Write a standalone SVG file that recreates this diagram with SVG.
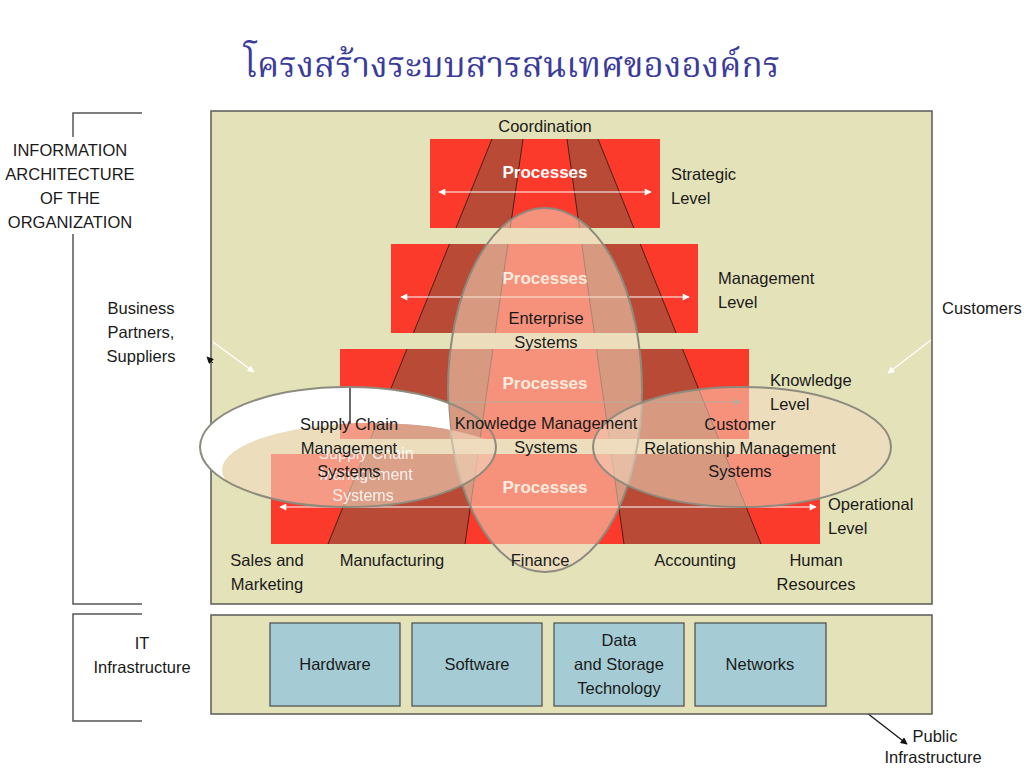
<svg xmlns="http://www.w3.org/2000/svg" width="1024" height="768" viewBox="0 0 1024 768">
<style>
.t{font-family:"Liberation Sans","DejaVu Sans",sans-serif;font-size:16.5px;fill:#1a1a1a}
.c{text-anchor:middle}
.p{font-family:"Liberation Sans","DejaVu Sans",sans-serif;font-size:17px;font-weight:bold;fill:#ffffff;text-anchor:middle}
.g{font-family:"Liberation Sans","DejaVu Sans",sans-serif;font-size:16px;fill:#ffffff;text-anchor:middle;opacity:0.85}
.lvl{fill:#fb3a2c}
.band{fill:#b94a36}
.bl{stroke:#4a2018;stroke-width:1;fill:none}
.box{fill:#e4e2b8;stroke:#5a5a5a;stroke-width:1.5}
.it{fill:#a5ccd4;stroke:#4a4a4a;stroke-width:1.2}
.ell{stroke:#8d8a7e;stroke-width:2}
.br{stroke:#555;stroke-width:1.5;fill:none}
</style>
<defs>
<marker id="wh" viewBox="0 0 10 10" refX="9" refY="5" markerWidth="9" markerHeight="7" markerUnits="userSpaceOnUse" orient="auto-start-reverse"><path d="M0,0 L10,5 L0,10 z" fill="#ffffff"/></marker>
<marker id="gr" viewBox="0 0 10 10" refX="9" refY="5" markerWidth="9" markerHeight="7" markerUnits="userSpaceOnUse" orient="auto-start-reverse"><path d="M0,0 L10,5 L0,10 z" fill="#707070"/></marker>
<marker id="bk" viewBox="0 0 10 10" refX="9" refY="5" markerWidth="9" markerHeight="7" markerUnits="userSpaceOnUse" orient="auto-start-reverse"><path d="M0,0 L10,5 L0,10 z" fill="#111111"/></marker>
<clipPath id="levels">
<rect x="430" y="139" width="230" height="89"/>
<rect x="391" y="244" width="307" height="89"/>
<rect x="340" y="349" width="409" height="90"/>
<rect x="271" y="454" width="549" height="90"/>
</clipPath>
<clipPath id="leftOuter"><ellipse cx="348" cy="447" rx="148" ry="60"/></clipPath>
<mask id="crescent">
<rect x="0" y="0" width="1024" height="768" fill="#fff"/>
<ellipse cx="372" cy="470" rx="150" ry="47" fill="#000"/>
<ellipse cx="545" cy="390" rx="97" ry="182" fill="#000"/>
</mask>
</defs>
<rect width="1024" height="768" fill="#ffffff"/>

<!-- title -->
<text x="512" y="77" text-anchor="middle" font-family="'Liberation Serif','Noto Serif Thai','Noto Sans Thai','DejaVu Sans',serif" font-size="35" fill="#3b3b9b">โครงสร้างระบบสารสนเทศขององค์กร</text>

<!-- brackets -->
<g id="brackets">
<path class="br" d="M142,113 H73 V137 M73,234 V604 H142"/>
<path class="br" d="M142,614 H73 V721 H142"/>
</g>
<g id="arch-label">
<text class="t c" x="70" y="156" font-size="17">INFORMATION</text>
<text class="t c" x="70" y="180" font-size="17">ARCHITECTURE</text>
<text class="t c" x="70" y="204" font-size="17">OF THE</text>
<text class="t c" x="70" y="228" font-size="17">ORGANIZATION</text>
</g>

<!-- main box -->
<g id="org-box">
<rect class="box" x="211" y="111" width="721" height="493"/>
</g>

<!-- pyramid levels -->
<g id="pyramid">
<rect class="lvl" x="430" y="139" width="230" height="89"/>
<rect class="lvl" x="391" y="244" width="307" height="89"/>
<rect class="lvl" x="340" y="349" width="409" height="90"/>
<rect class="lvl" x="271" y="454" width="549" height="90"/>
<g clip-path="url(#levels)">
<polygon class="band" points="492,139 328,544 465,544 523,139"/>
<polygon class="band" points="567,139 598,139 761,544 624,544"/>
<path class="bl" d="M492,139 L328,544 M523,139 L465,544 M567,139 L624,544 M598,139 L761,544"/>
</g>
</g>

<!-- level arrows -->
<g id="connectors">
<line x1="439" y1="192" x2="651" y2="192" stroke="#fff" stroke-width="1.2" marker-start="url(#wh)" marker-end="url(#wh)"/>
<line x1="401" y1="297" x2="689" y2="297" stroke="#fff" stroke-width="1.2" marker-start="url(#wh)" marker-end="url(#wh)"/>
<line x1="350" y1="402" x2="741" y2="402" stroke="#707070" stroke-width="1.2" marker-end="url(#gr)"/>
<line x1="280" y1="507" x2="816" y2="507" stroke="#fff" stroke-width="1.2" marker-start="url(#wh)" marker-end="url(#wh)"/>
<line x1="213" y1="342" x2="254" y2="372" stroke="#fff" stroke-width="1.3" marker-end="url(#wh)"/>
<line x1="931" y1="340" x2="888" y2="373" stroke="#fff" stroke-width="1.3" marker-end="url(#wh)"/>
<line x1="213" y1="363" x2="207" y2="357" stroke="#111" stroke-width="1" marker-end="url(#bk)"/>
<line x1="261" y1="399" x2="271" y2="406" stroke="#111" stroke-width="1" marker-end="url(#bk)"/>
<line x1="905" y1="713" x2="878" y2="694" stroke="#fff" stroke-width="1.3" marker-end="url(#wh)"/>
<line x1="867" y1="713" x2="907" y2="744" stroke="#111" stroke-width="1.2" marker-end="url(#bk)"/>
</g>

<g id="process-labels">
<text class="p" x="545" y="178">Processes</text>
<text class="p" x="545" y="284">Processes</text>
<text class="p" x="545" y="389">Processes</text>
<text class="p" x="545" y="493">Processes</text>
</g>

<!-- enterprise systems ellipse -->
<g id="enterprise-systems">
<ellipse class="ell" cx="545" cy="390" rx="97" ry="182" fill="#f2dac0" fill-opacity="0.55"/>
</g>

<!-- supply chain ellipse -->
<g id="supply-chain">
<g clip-path="url(#leftOuter)">
<ellipse cx="372" cy="470" rx="150" ry="47" fill="#f2dac0" fill-opacity="0.6"/>
</g>
<ellipse cx="348" cy="447" rx="148" ry="60" fill="#ffffff" mask="url(#crescent)"/>
<line x1="350" y1="388" x2="350" y2="424" stroke="#6a6a6a" stroke-width="2"/>
<ellipse class="ell" cx="348" cy="447" rx="148" ry="60" fill="none"/>
<text class="g" x="366" y="459">Supply Chain</text>
<text class="g" x="366" y="480">Management</text>
<text class="g" x="363" y="501">Systems</text>
</g>

<!-- CRM ellipse -->
<g id="crm">
<ellipse class="ell" cx="742" cy="447" rx="149" ry="60" fill="#f2dac0" fill-opacity="0.55"/>
</g>

<!-- labels -->
<g id="labels">
<text class="t c" x="545" y="132">Coordination</text>
<text class="t" x="671" y="180">Strategic</text>
<text class="t" x="671" y="204">Level</text>
<text class="t" x="718" y="284">Management</text>
<text class="t" x="718" y="308">Level</text>
<text class="t" x="770" y="386">Knowledge</text>
<text class="t" x="770" y="410">Level</text>
<text class="t" x="828" y="510">Operational</text>
<text class="t" x="828" y="534">Level</text>
<text class="t c" x="546" y="324">Enterprise</text>
<text class="t c" x="546" y="348">Systems</text>
<text class="t c" x="546" y="429">Knowledge Management</text>
<text class="t c" x="546" y="453">Systems</text>
<text class="t c" x="349" y="430">Supply Chain</text>
<text class="t c" x="349" y="454">Management</text>
<text class="t c" x="349" y="477">Systems</text>
<text class="t c" x="740" y="430">Customer</text>
<text class="t c" x="740" y="454">Relationship Management</text>
<text class="t c" x="740" y="477">Systems</text>
<text class="t c" x="267" y="566">Sales and</text>
<text class="t c" x="267" y="590">Marketing</text>
<text class="t c" x="392" y="566">Manufacturing</text>
<text class="t c" x="540" y="566">Finance</text>
<text class="t c" x="695" y="566">Accounting</text>
<text class="t c" x="816" y="566">Human</text>
<text class="t c" x="816" y="590">Resources</text>
<text class="t c" x="141" y="314">Business</text>
<text class="t c" x="141" y="338">Partners,</text>
<text class="t c" x="141" y="362">Suppliers</text>
<text class="t" x="942" y="314">Customers</text>
</g>

<!-- IT infrastructure -->
<g id="it-box">
<rect class="box" x="211" y="615" width="721" height="99"/>
</g>
<g id="it-label">
<text class="t c" x="142" y="649">IT</text>
<text class="t c" x="142" y="673" font-size="15.5">Infrastructure</text>
</g>
<g id="hardware"><rect class="it" x="270" y="623" width="130" height="83"/><text class="t c" x="335" y="670">Hardware</text></g>
<g id="software"><rect class="it" x="412" y="623" width="130" height="83"/><text class="t c" x="477" y="670">Software</text></g>
<g id="data"><rect class="it" x="554" y="623" width="130" height="83"/><text class="t c" x="619" y="646">Data</text><text class="t c" x="619" y="670">and Storage</text><text class="t c" x="619" y="694">Technology</text></g>
<g id="networks"><rect class="it" x="695" y="623" width="131" height="83"/><text class="t c" x="760" y="670">Networks</text></g>
<g id="public">
<text class="t c" x="935" y="742" font-size="14">Public</text>
<text class="t c" x="933" y="763" font-size="14">Infrastructure</text>
</g>
</svg>
